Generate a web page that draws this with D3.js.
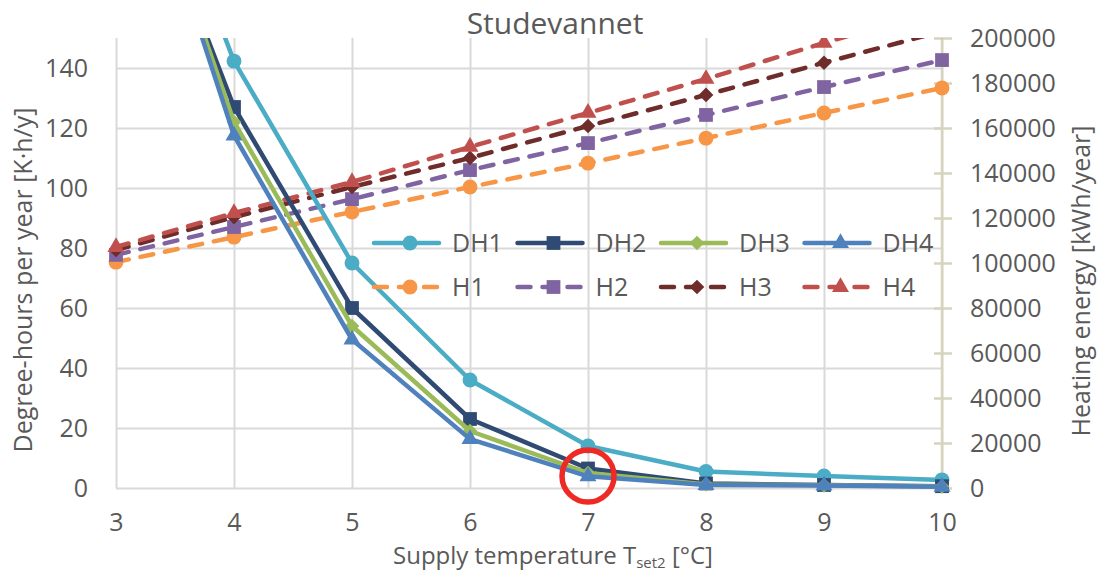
<!DOCTYPE html>
<html><head><meta charset="utf-8">
<script src="https://cdn.jsdelivr.net/npm/d3@7"></script>
<style>
body{margin:0;background:#fff}
text{font-family:"Open Sans",sans-serif;fill:#595959}
</style>
</head><body>
<svg id="chart" width="1098" height="572"></svg>
<script>
// ---- data ----
const xValues = [3, 4, 5, 6, 7, 8, 9, 10];
const DH1 = [245, 142.3, 75, 36, 14, 5.5, 4.0, 2.7];
const DH2 = [229, 127, 60, 23, 6.5, 1.5, 1.0, 0.6];
const DH3 = [236, 122, 54, 19, 5, 1.2, 0.9, 0.5];
const DH4 = [238, 117.5, 49.5, 16.3, 3.9, 1.0, 0.8, 0.4];
const H1 = [100400, 111500, 122700, 133800, 144400, 155500, 166700, 177800];
const H2 = [103600, 116000, 128400, 141300, 153300, 165800, 178200, 190200];
const H3 = [105800, 120400, 133800, 146700, 160900, 174700, 189000, 203000];
const H4 = [107100, 122200, 136000, 151600, 166700, 181800, 197800, 213000];
const leftTicks = [0, 20, 40, 60, 80, 100, 120, 140];
const rightTicks = [0, 20000, 40000, 60000, 80000, 100000, 120000, 140000, 160000, 180000, 200000];
const highlight = {x: 7, y: 4};
const titleText = "Studevannet";

// ---- layout ----
const W = 1098, H = 572;
const L = 116, R = 942, T = 38, B = 488;
const svg = d3.select("#chart");
svg.append("rect").attr("width", W).attr("height", H).attr("fill", "#fff");

const x = d3.scaleLinear().domain([3, 10]).range([L, R]);
const yL = d3.scaleLinear().domain([0, 150]).range([B, T]);
const yR = d3.scaleLinear().domain([0, 200000]).range([B, T]);
const fmt = d3.format("d");

const grid = "#d9d9d9";
// horizontal gridlines
svg.append("g").attr("transform", `translate(${L},0)`)
  .call(d3.axisLeft(yL).tickValues(leftTicks).tickSize(-(R - L)).tickFormat(""))
  .call(g => g.select(".domain").remove())
  .call(g => g.selectAll("line").attr("stroke", grid).attr("stroke-width", 2));
// vertical gridlines
svg.append("g").attr("transform", `translate(0,${B})`)
  .call(d3.axisBottom(x).tickValues(xValues).tickSize(-(B - T)).tickFormat(""))
  .call(g => g.select(".domain").remove())
  .call(g => g.selectAll("line").attr("stroke", grid).attr("stroke-width", 2));

// left tick labels
svg.append("g").attr("transform", `translate(${L},0)`)
  .call(d3.axisLeft(yL).tickValues(leftTicks).tickFormat(fmt).tickSize(0).tickPadding(28))
  .call(g => g.select(".domain").remove())
  .call(g => g.selectAll("text").attr("font-size", 25).attr("fill", "#595959").attr("font-family", "Open Sans"));

// bottom tick labels
svg.append("g").attr("transform", `translate(0,${B})`)
  .call(d3.axisBottom(x).tickValues(xValues).tickFormat(fmt).tickSize(0).tickPadding(25))
  .call(g => g.select(".domain").remove())
  .call(g => g.selectAll("text").attr("font-size", 25).attr("fill", "#595959").attr("font-family", "Open Sans"));

// right axis
const axColor = "#d8d3bd";
svg.append("g").attr("transform", `translate(${R},0)`)
  .call(d3.axisRight(yR).tickValues(rightTicks).tickFormat(fmt).tickSize(10).tickPadding(18).tickSizeOuter(0))
  .call(g => g.select(".domain").attr("stroke", axColor).attr("stroke-width", 2.5).attr("d", `M0,${T}V${B}`))
  .call(g => g.selectAll(".tick line").attr("stroke", axColor).attr("stroke-width", 2.5).attr("x1", -8))
  .call(g => g.selectAll("text").attr("font-size", 25).attr("fill", "#595959").attr("font-family", "Open Sans"));

// clip
svg.append("clipPath").attr("id", "clip").append("rect")
  .attr("x", 0).attr("y", T).attr("width", W).attr("height", H - T);

const diamond = {draw(ctx, size) { const r = Math.sqrt(size) / 2 * 1.2; ctx.moveTo(0, -r); ctx.lineTo(r, 0); ctx.lineTo(0, r); ctx.lineTo(-r, 0); ctx.closePath(); }};
const sym = {
  circle: d3.symbol(d3.symbolCircle, 175),
  square: d3.symbol(d3.symbolSquare, 190),
  diamond: d3.symbol(diamond, 150),
  triangle: d3.symbol(d3.symbolTriangle, 125)
};

const series = [
  {name: "H1", vals: H1, color: "#F79646", dash: true, sym: "circle", axis: yR},
  {name: "H2", vals: H2, color: "#8064A2", dash: true, sym: "square", axis: yR},
  {name: "H3", vals: H3, color: "#6E2C2B", dash: true, sym: "diamond", axis: yR},
  {name: "H4", vals: H4, color: "#C0504D", dash: true, sym: "triangle", axis: yR},
  {name: "DH1", vals: DH1, color: "#4BACC6", dash: false, sym: "circle", axis: yL},
  {name: "DH2", vals: DH2, color: "#2F4A73", dash: false, sym: "square", axis: yL},
  {name: "DH3", vals: DH3, color: "#9BBB59", dash: false, sym: "diamond", axis: yL},
  {name: "DH4", vals: DH4, color: "#4F81BD", dash: false, sym: "triangle", axis: yL}
];

const plot = svg.append("g").attr("clip-path", "url(#clip)");
series.forEach(s => {
  const line = d3.line().x((d, i) => x(xValues[i])).y(d => s.axis(d));
  const g = plot.append("g");
  g.append("path").attr("d", line(s.vals)).attr("fill", "none")
    .attr("stroke", s.color).attr("stroke-width", 4.5)
    .attr("stroke-linecap", "round").attr("stroke-linejoin", "round")
    .attr("stroke-dasharray", s.dash ? "13,12" : null);
  g.selectAll("path.m").data(s.vals).join("path").attr("class", "m")
    .attr("transform", (d, i) => `translate(${x(xValues[i])},${s.axis(d)})`)
    .attr("d", sym[s.sym]()).attr("fill", s.color);
});

// legend
const legendOrder = ["DH1", "DH2", "DH3", "DH4", "H1", "H2", "H3", "H4"];
const lg = svg.append("g");
legendOrder.forEach((n, k) => {
  const s = series.find(d => d.name === n);
  const col = k % 4, row = Math.floor(k / 4);
  const x0 = 374 + col * 143.5, y0 = 243 + row * 44;
  lg.append("line").attr("x1", x0).attr("x2", x0 + 65).attr("y1", y0).attr("y2", y0)
    .attr("stroke", s.color).attr("stroke-width", 4.5).attr("stroke-linecap", "round")
    .attr("stroke-dasharray", s.dash ? "13,12" : null);
  lg.append("path").attr("transform", `translate(${x0 + 36},${y0})`).attr("d", sym[s.sym]()).attr("fill", s.color);
  lg.append("text").attr("x", x0 + 78).attr("y", y0 + 9).attr("font-size", 25).text(n);
});

// highlight circle
svg.append("circle").attr("cx", x(highlight.x)).attr("cy", yL(highlight.y)).attr("r", 26)
  .attr("fill", "none").attr("stroke", "#EE2A24").attr("stroke-width", 5.5);

// titles
svg.append("text").attr("x", 555).attr("y", 34).attr("text-anchor", "middle").attr("font-size", 30).text(titleText);
svg.append("text").attr("transform", "translate(32,280) rotate(-90)").attr("text-anchor", "middle")
  .attr("font-size", 25).text("Degree-hours per year [K·h/y]");
svg.append("text").attr("transform", "translate(1090,281) rotate(-90)").attr("text-anchor", "middle")
  .attr("font-size", 25).text("Heating energy [kWh/year]");
const xt = svg.append("text").attr("x", 553).attr("y", 564).attr("text-anchor", "middle").attr("font-size", 24);
xt.append("tspan").text("Supply temperature T");
xt.append("tspan").attr("font-size", 15).attr("dy", 4).text("set2");
xt.append("tspan").attr("dy", -4).text(" [°C]");
</script>
</body></html>
